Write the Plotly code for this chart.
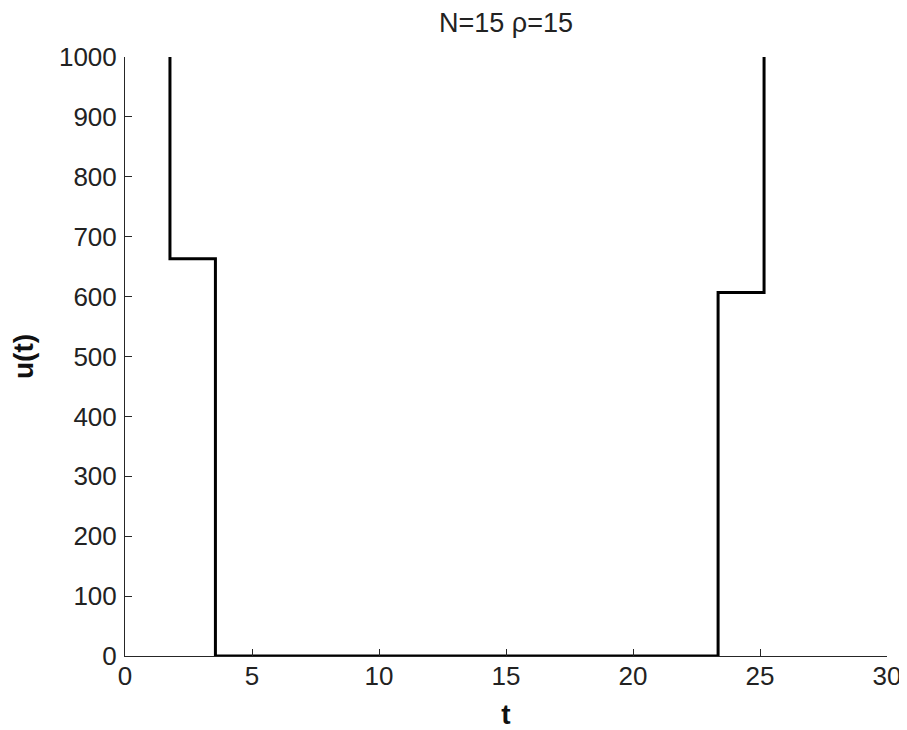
import plotly.graph_objects as go

# Control signal u(t): piecewise-constant profile
t_vals = [1.77, 1.77, 3.56, 3.56, 23.35, 23.35, 25.16, 25.16]
u_vals = [1000, 663, 663, 0, 0, 607, 607, 1000]

x_ticks = [0, 5, 10, 15, 20, 25, 30]
y_ticks = [0, 100, 200, 300, 400, 500, 600, 700, 800, 900, 1000]

title_text = "N=15 ρ=15"
x_label = "t"
y_label = "u(t)"

FONT = "Liberation Sans, Arial, sans-serif"
AXC = "#262626"

# page body adds an 8px offset; figure sized so the plot lands where the reference has it
W, H = 899, 722

fig = go.Figure()
fig.add_trace(go.Scatter(
    x=t_vals, y=u_vals, mode="lines",
    line=dict(color="black", width=3),
    showlegend=False, hoverinfo="skip",
))

axis_common = dict(
    showgrid=False, zeroline=False, showline=True, linecolor=AXC, linewidth=1,
    ticks="inside", ticklen=7, tickwidth=1, tickcolor=AXC,
    tickfont=dict(family=FONT, size=26, color="#222"),
)

fig.update_layout(
    width=W, height=H,
    margin=dict(l=117, r=20, t=49, b=74, autoexpand=False),
    paper_bgcolor="white", plot_bgcolor="white",
    font=dict(family=FONT, color="#222"),
    title=dict(text=title_text, x=0.5, xref="paper", xanchor="center",
               y=1 - 15 / H, yref="container", yanchor="middle",
               font=dict(family=FONT, size=27, color="#222")),
    xaxis=dict(range=[0, 30], tickvals=x_ticks, ticktext=[str(v) for v in x_ticks],
               ticklabelstandoff=-3,
               title=dict(text="<b>" + x_label + "</b>", standoff=17,
                          font=dict(family=FONT, size=28, color="#111")),
               **axis_common),
    yaxis=dict(range=[0, 1000], tickvals=y_ticks, ticktext=[str(v) for v in y_ticks],
               ticklabelstandoff=2,
               title=dict(text="<b>" + y_label + "</b>", standoff=19,
                          font=dict(family=FONT, size=28, color="#111")),
               **axis_common),
)

fig.write_html("out.html")
